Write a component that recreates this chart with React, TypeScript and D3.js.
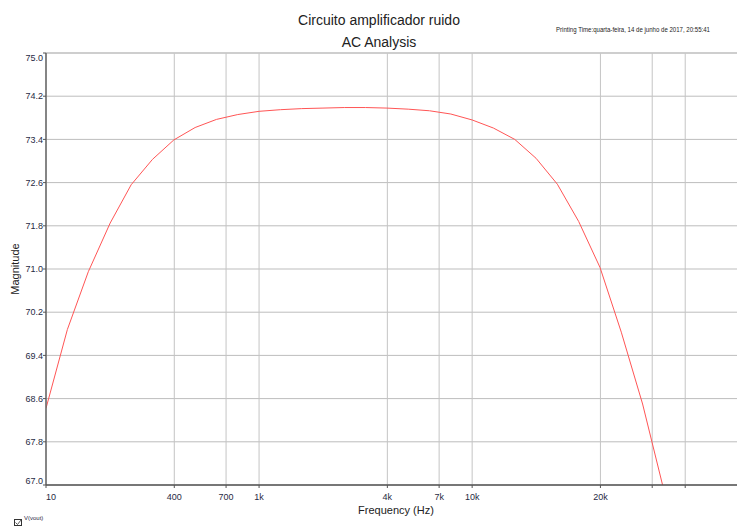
import React from "react";
import * as d3 from "d3";

const frequencies = [
  100, 126, 158, 200, 251, 316, 398, 501, 631, 794,
  1000, 1259, 1585, 1995, 2512, 3162, 3981, 5012, 6310, 7943,
  10000, 12589, 15849, 19953, 25119, 31623, 39811, 50119, 63096, 79433,
];
const magnitude = [
  68.42, 69.88, 70.95, 71.85, 72.56, 73.03, 73.39, 73.62, 73.77, 73.86,
  73.92, 73.95, 73.97, 73.98, 73.99, 73.99, 73.98, 73.96, 73.93, 73.87,
  73.76, 73.61, 73.4, 73.05, 72.57, 71.88, 71.03, 69.83, 68.5, 66.9,
];
const yTicks = [67.0, 67.8, 68.6, 69.4, 70.2, 71.0, 71.8, 72.6, 73.4, 74.2, 75.0];
const xTickValues = [100, 400, 700, 1000, 4000, 7000, 10000, 40000, 70000, 100000];
const xTickLabels = ["10", "400", "700", "1k", "4k", "7k", "10k", "20k", "", ""];
const xDomain = [100, 175000];
const yDomain = [67, 75];

const title = "Circuito amplificador ruido";
const subtitle = "AC Analysis";
const printing = "Printing Time:quarta-feira, 14 de junho de 2017, 20:55:41";
const xLabel = "Frequency (Hz)";
const yLabel = "Magnitude";
const legendLabel = "V(vout)";

export default function App() {
  const W = 737, H = 526;
  const left = 46, right = 737, top = 53, bottom = 485;
  const x = d3.scaleLog().domain(xDomain).range([left, right]);
  const y = d3.scaleLinear().domain(yDomain).range([bottom, top]);
  const line = d3
    .line<number>()
    .x((_, i) => x(frequencies[i]))
    .y((d) => y(d));
  const font = "Arial, 'Liberation Sans', sans-serif";

  return (
    <svg
      width={W}
      height={H}
      style={{ position: "absolute", left: 0, top: 0, background: "#fff" }}
      fontFamily={font}
    >
      <defs>
        <clipPath id="plotclip">
          <rect x={left} y={top} width={right - left} height={bottom - top} />
        </clipPath>
      </defs>
      <rect x={0} y={0} width={W} height={H} fill="#fff" />
      {/* horizontal grid */}
      {yTicks.map((t) => (
        <line key={"h" + t} x1={left} x2={right} y1={y(t)} y2={y(t)} stroke="#bdbdbd" strokeWidth={1} />
      ))}
      {/* vertical grid */}
      {xTickValues.map((t) => (
        <line key={"v" + t} x1={x(t)} x2={x(t)} y1={top} y2={bottom} stroke="#c4c4c4" strokeWidth={1} />
      ))}
      {/* top border */}
      <line x1={left} x2={right} y1={top} y2={top} stroke="#c8c8c8" strokeWidth={1.5} />
      {/* curve */}
      <path d={line(magnitude) || ""} fill="none" stroke="#ff5555" strokeWidth={1} clipPath="url(#plotclip)" />
      {/* axes */}
      <line x1={left} x2={left} y1={top} y2={bottom} stroke="#666" strokeWidth={1.5} />
      <line x1={left} x2={right} y1={bottom} y2={bottom} stroke="#555" strokeWidth={1.5} />
      {yTicks.map((t, i) => {
        const yy = y(t);
        const dy = i === yTicks.length - 1 ? 5 : i === 0 ? -4 : 0;
        return (
          <g key={"yt" + t}>
            <line x1={left - 3} x2={left} y1={yy} y2={yy} stroke="#555" strokeWidth={1} />
            <text x={left - 3} y={yy + dy} dy="0.35em" textAnchor="end" fontSize={9} fill="#1f2a44">
              {t.toFixed(1)}
            </text>
          </g>
        );
      })}
      {xTickValues.map((t, i) => (
        <g key={"xt" + t}>
          <line x1={x(t)} x2={x(t)} y1={bottom} y2={bottom + 3} stroke="#555" strokeWidth={1} />
          <text x={x(t) + (i === 0 ? 5 : 0)} y={bottom + 15} textAnchor="middle" fontSize={9} fill="#1f2a44">
            {xTickLabels[i]}
          </text>
        </g>
      ))}
      {/* titles */}
      <text x={379} y={25} textAnchor="middle" fontSize={14} fill="#222">{title}</text>
      <text x={379} y={47} textAnchor="middle" fontSize={14} fill="#222">{subtitle}</text>
      <text x={556} y={32} fontSize={6.5} fill="#222" textLength={154} lengthAdjust="spacingAndGlyphs">{printing}</text>
      <text x={396} y={514} textAnchor="middle" fontSize={11} fill="#222">{xLabel}</text>
      <text transform={`translate(19,${(top + bottom) / 2}) rotate(-90)`} textAnchor="middle" fontSize={11} fill="#222">{yLabel}</text>
      {/* legend */}
      <rect x={14.5} y={519.5} width={7} height={6} fill="#fff" stroke="#333" strokeWidth={1} />
      <path d="M15.5,522.5 L17.5,524.5 L21,520" fill="none" stroke="#333" strokeWidth={0.8} />
      <text x={24} y={520} fontSize={6} fill="#1f2a44">{legendLabel}</text>
    </svg>
  );
}
